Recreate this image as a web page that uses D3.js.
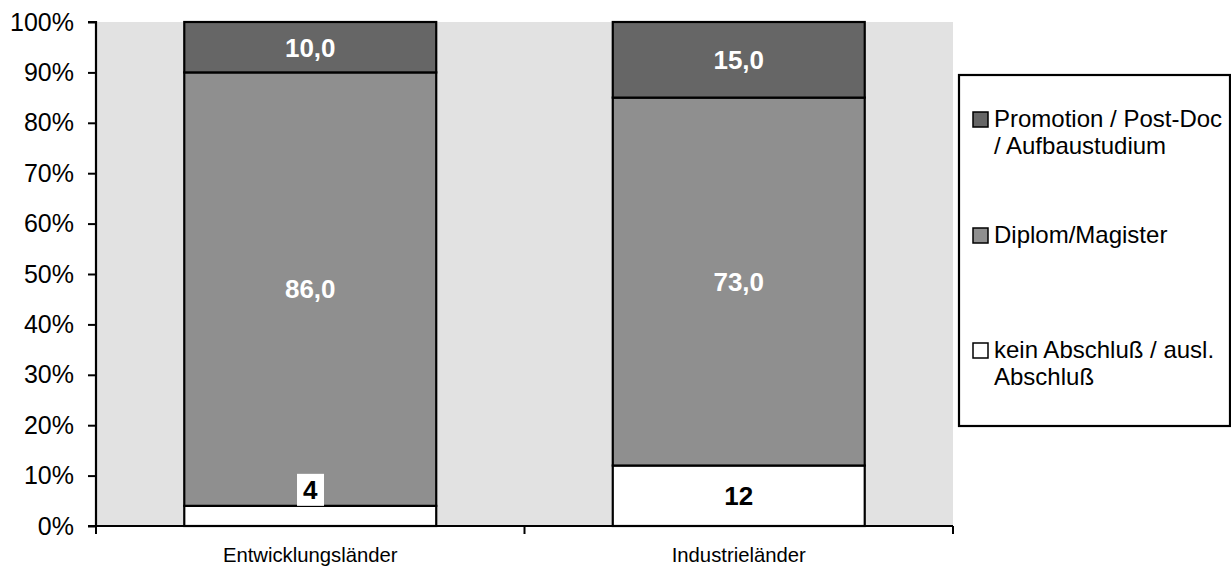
<!DOCTYPE html>
<html>
<head>
<meta charset="utf-8">
<script src="https://cdn.jsdelivr.net/npm/d3@7"></script>
<style>
  html, body { margin: 0; padding: 0; background: #ffffff; }
  svg { display: block; font-family: "Liberation Sans", Arial, sans-serif; }
</style>
</head>
<body>
<svg id="chart" width="1231" height="568"></svg>
<script>
// Categories (country groups)
const categories = ["Entwicklungsländer", "Industrieländer"];

// Series values in percent, stacked bottom to top
const keinAbschluss = [4, 12];
const diplomMagister = [86, 73];
const promotion = [10, 15];

// Series names (legend text, split into lines) and fills
const seriesNames = [
  ["kein Abschluß / ausl.", "Abschluß"],
  ["Diplom/Magister"],
  ["Promotion / Post-Doc", "/ Aufbaustudium"]
];
const seriesFills = ["#ffffff", "#8f8f8f", "#666666"];
const seriesLabelFills = ["#000000", "#ffffff", "#ffffff"];

// Y axis ticks
const yTicks = [0, 10, 20, 30, 40, 50, 60, 70, 80, 90, 100];

const de = d3.formatLocale({ decimal: ",", thousands: ".", grouping: [3], currency: ["", " €"] });
const seriesFormats = [de.format("d"), de.format(".1f"), de.format(".1f")];

const seriesValues = [keinAbschluss, diplomMagister, promotion];
const keys = ["kein", "diplom", "promo"];
const rows = categories.map((c, i) => {
  const r = { category: c };
  keys.forEach((k, j) => { r[k] = seriesValues[j][i]; });
  return r;
});
const stacked = d3.stack().keys(keys)(rows);

const svg = d3.select("#chart");
const plot = { left: 96, right: 953, top: 22, bottom: 526 };

const x = d3.scaleBand()
  .domain(categories)
  .range([plot.left, plot.right])
  .paddingInner(0.412)
  .paddingOuter(0.206);

const y = d3.scaleLinear()
  .domain([0, 100])
  .range([plot.bottom, plot.top]);

// Plot background
svg.append("rect")
  .attr("x", plot.left).attr("y", plot.top)
  .attr("width", plot.right - plot.left).attr("height", plot.bottom - plot.top)
  .attr("fill", "#e2e2e2");

// Stacked bars
const layers = svg.append("g").selectAll("g")
  .data(stacked)
  .join("g")
  .attr("fill", (d, i) => seriesFills[i]);

layers.selectAll("rect")
  .data(d => d)
  .join("rect")
  .attr("x", d => x(d.data.category))
  .attr("y", d => y(d[1]))
  .attr("width", x.bandwidth())
  .attr("height", d => y(d[0]) - y(d[1]))
  .attr("stroke", "#000")
  .attr("stroke-width", 2.2);

// Y axis
const yAxis = svg.append("g")
  .attr("transform", `translate(${plot.left},0)`)
  .call(d3.axisLeft(y).tickValues(yTicks).tickFormat(d => d + "%").tickSize(8).tickPadding(14));
yAxis.select(".domain").attr("stroke", "#000").attr("stroke-width", 2.2).attr("d", `M-8,${plot.top}H0V${plot.bottom}H-8`);
yAxis.selectAll(".tick line").attr("stroke", "#000").attr("stroke-width", 2);
yAxis.selectAll(".tick text")
  .attr("font-family", "Liberation Sans, Arial, sans-serif")
  .attr("font-size", 25).attr("fill", "#000");

// X axis with boundary ticks between categories
const xAxisG = svg.append("g");
xAxisG.append("line")
  .attr("x1", plot.left).attr("x2", plot.right)
  .attr("y1", plot.bottom).attr("y2", plot.bottom)
  .attr("stroke", "#000").attr("stroke-width", 2.2);
const boundaries = [plot.left].concat(categories.map(c => x(c) + x.bandwidth() + x.step() * x.paddingInner() / 2));
boundaries[boundaries.length - 1] = plot.right;
xAxisG.selectAll(".xtick")
  .data(boundaries)
  .join("line")
  .attr("x1", d => d).attr("x2", d => d)
  .attr("y1", plot.bottom).attr("y2", plot.bottom + 8)
  .attr("stroke", "#000").attr("stroke-width", 2);
xAxisG.selectAll(".xlabel")
  .data(categories)
  .join("text")
  .attr("x", d => x(d) + x.bandwidth() / 2)
  .attr("y", 562)
  .attr("text-anchor", "middle")
  .attr("font-size", 20.3)
  .attr("fill", "#000")
  .text(d => d);

// Value labels
const labelG = svg.append("g");
stacked.forEach((layer, si) => {
  layer.forEach(d => {
    const top = y(d[1]), bottom = y(d[0]);
    const cx = x(d.data.category) + x.bandwidth() / 2;
    const boxH = 32;
    const mid = (top + bottom) / 2;
    const cy = (bottom - top) < boxH ? top - boxH / 2 : mid;
    const g = labelG.append("g");
    const t = g.append("text")
      .attr("x", cx)
      .attr("y", cy)
      .attr("dy", "0.36em")
      .attr("text-anchor", "middle")
      .attr("font-size", 26)
      .attr("font-weight", "bold")
      .attr("fill", seriesLabelFills[si])
      .text(seriesFormats[si](d[1] - d[0]));
    if (si === 0) {
      const bb = t.node().getBBox();
      g.insert("rect", "text")
        .attr("x", bb.x - 6)
        .attr("y", cy - boxH / 2)
        .attr("width", bb.width + 12)
        .attr("height", boxH)
        .attr("fill", "#ffffff");
    }
  });
});

// Legend
const legend = svg.append("g");
legend.append("rect")
  .attr("x", 959).attr("y", 75)
  .attr("width", 271).attr("height", 351)
  .attr("fill", "#ffffff").attr("stroke", "#000").attr("stroke-width", 2.2);

const legendOrder = [2, 1, 0];
const legendBaselines = [127, 243, 358];
legendOrder.forEach((si, k) => {
  const base = legendBaselines[k];
  legend.append("rect")
    .attr("x", 973).attr("y", base - 15)
    .attr("width", 15).attr("height", 15)
    .attr("fill", seriesFills[si])
    .attr("stroke", "#000").attr("stroke-width", 1.5);
  const txt = legend.append("text")
    .attr("x", 994).attr("y", base)
    .attr("font-size", 24)
    .attr("fill", "#000");
  seriesNames[si].forEach((line, li) => {
    txt.append("tspan")
      .attr("x", 994)
      .attr("y", base + li * 27)
      .text(line);
  });
});
</script>
</body>
</html>
